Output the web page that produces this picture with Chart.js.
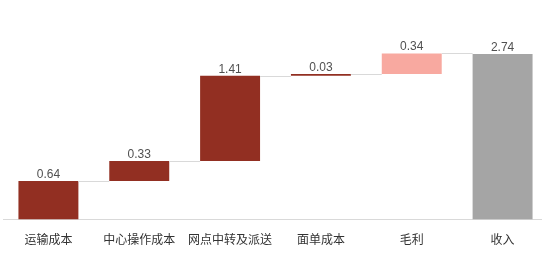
<!DOCTYPE html>
<html>
<head>
<meta charset="utf-8">
<script src="https://cdn.jsdelivr.net/npm/chart.js@4/dist/chart.umd.min.js"></script>
<style>
  html, body { margin: 0; padding: 0; background: #fff; overflow: hidden; }
  #wrap { width: 548px; height: 268px; }
</style>
</head>
<body>
<div id="wrap"><canvas id="chart" width="548" height="268"></canvas></div>
<script>
const categories = ['运输成本', '中心操作成本', '网点中转及派送', '面单成本', '毛利', '收入']
const values = [0.64, 0.33, 1.41, 0.03, 0.34, 2.74]
const barColors = ['#922F22', '#922F22', '#922F22', '#922F22', '#F8A9A0', '#A5A5A5']

// floating bars: each step starts where the previous one ended, last bar is the total
let running = 0
const ranges = values.map((v, i) => {
    if (i == values.length - 1) return [0, v]
    const r = [running, running + v]
    running += v
    return r
})

const waterfallExtras = {
    id: 'waterfallExtras',
    afterDatasetsDraw(chart) {
        const ctx = chart.ctx
        const meta = chart.getDatasetMeta(0)
        const y = chart.scales.y
        ctx.save()
        // connector lines
        ctx.strokeStyle = '#D9D9D9'
        ctx.lineWidth = 1
        for (let i = 0; i < meta.data.length - 1; i++) {
            const a = meta.data[i], b = meta.data[i + 1]
            const py = Math.round(y.getPixelForValue(ranges[i][1])) + 0.5
            ctx.beginPath()
            ctx.moveTo(a.x + a.width / 2, py)
            ctx.lineTo(b.x - b.width / 2, py)
            ctx.stroke()
        }
        // value labels
        ctx.fillStyle = '#505050'
        ctx.font = '12px "Liberation Sans", Arial, sans-serif'
        ctx.textAlign = 'center'
        ctx.textBaseline = 'alphabetic'
        meta.data.forEach((bar, i) => {
            const top = Math.min(bar.y, bar.base)
            ctx.fillText(values[i].toFixed(2), bar.x, top - 3)
        })
        ctx.restore()
    }
}

new Chart('chart', {
    type: 'bar',
    data: {
        labels: categories,
        datasets: [{
            data: ranges,
            backgroundColor: barColors,
            borderWidth: 0,
            categoryPercentage: 1,
            barPercentage: 0.66
        }]
    },
    options: {
        responsive: false,
        animation: false,
        layout: { padding: { left: 3, right: 0, top: 2, bottom: 16 } },
        plugins: {
            legend: { display: false },
            tooltip: { enabled: false }
        },
        scales: {
            x: {
                grid: { display: false },
                border: { display: true, color: '#D9D9D9', width: 1 },
                ticks: {
                    color: '#333333',
                    padding: 5,
                    font: { family: '"Noto Sans CJK SC", sans-serif', size: 12 }
                }
            },
            y: {
                display: false,
                min: 0,
                max: 3.6
            }
        }
    },
    plugins: [waterfallExtras]
})
</script>
</body>
</html>
